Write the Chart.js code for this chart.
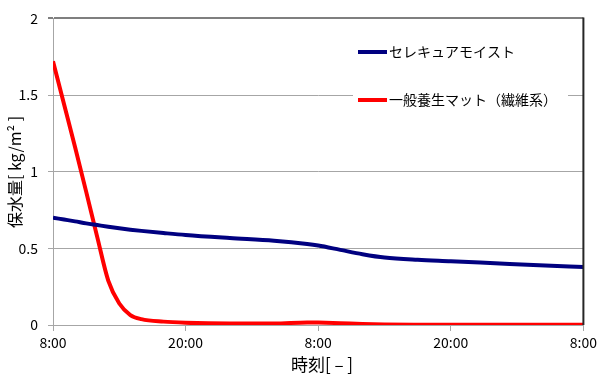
<!DOCTYPE html>
<html>
<head>
<meta charset="utf-8">
<script src="https://cdn.jsdelivr.net/npm/chart.js@4"></script>
<style>
html,body{margin:0;padding:0;background:#fff;}
#wrap{width:600px;height:376px;}
</style>
</head>
<body>
<div id="wrap"><canvas id="c" width="600" height="376"></canvas></div>
<script>
// ---- data (hours elapsed since 8:00 on day 1) ----
const hours       = [0, 1, 2, 3, 4, 5, 6, 7, 8, 10, 12, 16, 20, 23, 24, 26, 28, 30, 33, 36, 40, 44, 48];
const moistValues = [0.700, 0.688, 0.676, 0.663, 0.652, 0.641, 0.631, 0.622, 0.614, 0.600, 0.587, 0.567, 0.549, 0.528, 0.518, 0.490, 0.462, 0.440, 0.425, 0.416, 0.403, 0.390, 0.378];
const matValues   = [1.72, 1.44, 1.16, 0.87, 0.575, 0.29, 0.14, 0.065, 0.038, 0.022, 0.015, 0.010, 0.010, 0.017, 0.016, 0.012, 0.007, 0.004, 0.002, 0.001, 0.001, 0.001, 0.001];
const seriesNames  = ['セレキュアモイスト', '一般養生マット（繊維系）'];
const seriesColors = ['#000080', '#ff0000'];
const xTickLabels  = ['8:00', '20:00', '8:00', '20:00', '8:00'];
const yTickValues  = [0, 0.5, 1, 1.5, 2];
const yTickLabels  = ['0', '0.5', '1', '1.5', '2'];
const xTitle = '時刻[ – ]';
const yTitle = '保水量[ kg/m² ]';

const FONT = "'Noto Sans CJK JP', 'Noto Sans', sans-serif";

function toPoints(vals){ return vals.map((v,i)=>({x: hours[i], y: v})); }

const overlay = {
  id: 'overlay',
  afterDraw(chart){
    const ctx = chart.ctx, a = chart.chartArea;
    ctx.save();
    // right border
    ctx.strokeStyle = '#262626';
    ctx.lineWidth = 2;
    ctx.beginPath();
    ctx.moveTo(a.right, a.top - 1);
    ctx.lineTo(a.right, a.bottom);
    ctx.stroke();
    // legend
    const lx = 353, ly = 28, lw = 215, lh = 94;
    ctx.fillStyle = '#ffffff';
    ctx.fillRect(lx, ly, lw, lh);
    chart.data.datasets.forEach((ds, i) => {
      const y = 52 + i * 48;
      ctx.strokeStyle = ds.borderColor;
      ctx.lineWidth = 4;
      ctx.beginPath();
      ctx.moveTo(358, y);
      ctx.lineTo(387, y);
      ctx.stroke();
      ctx.fillStyle = '#000';
      ctx.font = "14px " + FONT;
      ctx.textAlign = 'left';
      ctx.textBaseline = 'middle';
      ctx.fillText(ds.label, 389, y);
    });
    // axis titles
    ctx.fillStyle = '#000';
    ctx.font = "17px " + FONT;
    ctx.textAlign = 'center';
    ctx.textBaseline = 'middle';
    ctx.fillText(xTitle, 322, 365);
    ctx.translate(15, 172);
    ctx.rotate(-Math.PI/2);
    ctx.font = "16px " + FONT;
    ctx.fillText(yTitle, 0, 0);
    ctx.restore();
  }
};

new Chart(document.getElementById('c'), {
  type: 'line',
  data: {
    datasets: [
      { label: seriesNames[0], data: toPoints(moistValues), borderColor: seriesColors[0], borderWidth: 4, pointRadius: 0, cubicInterpolationMode: 'monotone', fill: false },
      { label: seriesNames[1], data: toPoints(matValues), borderColor: seriesColors[1], borderWidth: 4, pointRadius: 0, cubicInterpolationMode: 'monotone', fill: false }
    ]
  },
  options: {
    responsive: false,
    animation: false,
    devicePixelRatio: 1,
    layout: { padding: { top: 9, right: 15, left: 0, bottom: 0 } },
    plugins: { legend: { display: false }, tooltip: { enabled: false } },
    scales: {
      x: {
        type: 'linear', min: 0, max: 48,
        afterFit(s){ s.height = 51; },
        afterBuildTicks(s){ s.ticks = xTickLabels.map((_, i) => ({ value: i * 12 })); },
        ticks: { callback: (v) => xTickLabels[Math.round(v / 12)], color: '#000', font: { family: FONT, size: 14 }, padding: 3, maxRotation: 0, autoSkip: false },
        grid: { drawOnChartArea: false, drawTicks: true, tickLength: 6, color: '#a6a6a6' },
        border: { display: true, color: '#a6a6a6', width: 1 }
      },
      y: {
        min: 0, max: 2,
        afterFit(s){ s.width = 53; },
        afterBuildTicks(s){ s.ticks = yTickValues.map(v => ({ value: v })); },
        ticks: { callback: (v) => yTickLabels[yTickValues.indexOf(v)], color: '#000', font: { family: FONT, size: 14 }, padding: 10 },
        grid: { drawTicks: true, tickLength: 5,
                color: (c) => (c.tick && c.tick.value === 2) ? '#7f7f7f' : '#a6a6a6',
                lineWidth: (c) => (c.tick && c.tick.value === 2) ? 2 : 1 },
        border: { display: true, color: '#a6a6a6', width: 1 }
      }
    }
  },
  plugins: [overlay]
});
</script>
</body>
</html>
